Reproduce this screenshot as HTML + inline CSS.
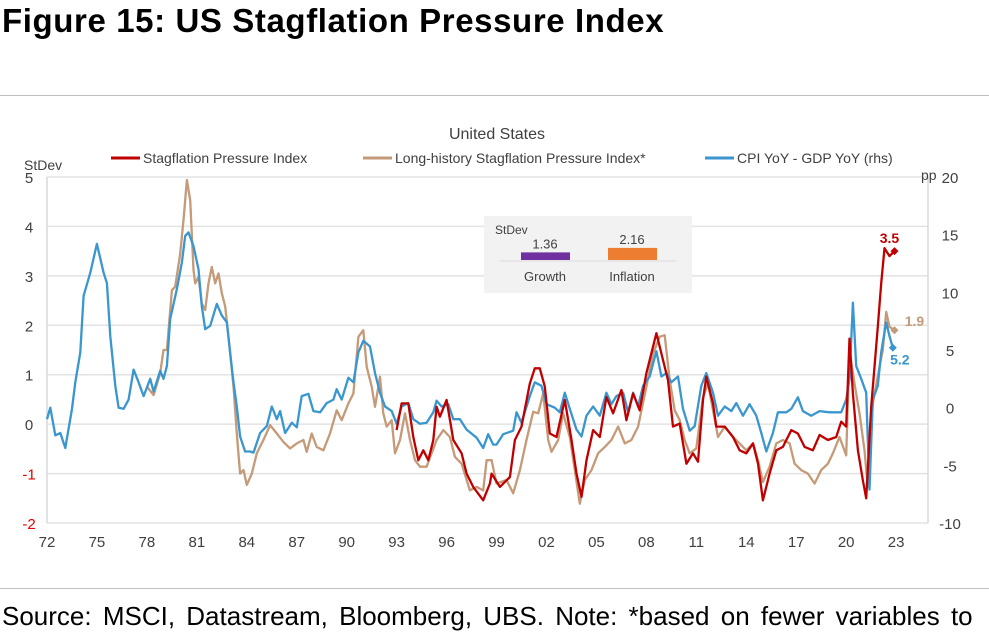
<!DOCTYPE html>
<html><head><meta charset="utf-8"><style>
body{margin:0;width:989px;height:638px;background:#fff;overflow:hidden;font-family:"Liberation Sans",sans-serif;position:relative}
.t{position:absolute;white-space:nowrap}
</style></head><body>
<div class="t" style="left:2px;top:2px;font-size:33px;font-weight:bold;color:#000;letter-spacing:0.6px">Figure 15: US Stagflation Pressure Index</div>
<div style="position:absolute;left:0;top:95px;width:989px;height:1px;background:#bfbfbf"></div>
<div style="position:absolute;left:0;top:588px;width:989px;height:1px;background:#bfbfbf"></div>
<div class="t" style="left:2px;top:601px;font-size:26px;color:#000;word-spacing:4px">Source: MSCI, Datastream, Bloomberg, UBS. Note: *based on fewer variables to</div>
<svg id="c" width="989" height="638" style="position:absolute;left:0;top:0" font-family="Liberation Sans, sans-serif"></svg>
<script>
const leftTicks=[5,4,3,2,1,0,-1,-2];
const rightTicks=[20,15,10,5,0,-5,-10];
const xTickLabels=["72","75","78","81","84","87","90","93","96","99","02","05","08","11","14","17","20","23"];
const blueDates=[1972.0,1972.2,1972.5,1972.8,1973.1,1973.5,1973.7,1974.0,1974.2,1974.6,1975.0,1975.4,1975.6,1975.8,1976.1,1976.3,1976.6,1976.9,1977.2,1977.5,1977.8,1978.2,1978.4,1978.8,1979.0,1979.2,1979.4,1979.8,1980.1,1980.3,1980.5,1980.8,1981.1,1981.3,1981.5,1981.8,1982.2,1982.5,1982.8,1983.0,1983.2,1983.4,1983.6,1983.9,1984.2,1984.4,1984.8,1985.2,1985.5,1985.8,1986.0,1986.3,1986.7,1987.0,1987.3,1987.7,1988.0,1988.4,1988.8,1989.2,1989.4,1989.7,1990.1,1990.4,1990.7,1991.0,1991.4,1991.7,1992.0,1992.3,1992.7,1993.0,1993.3,1993.7,1994.0,1994.4,1994.8,1995.2,1995.4,1995.7,1996.1,1996.4,1996.8,1997.2,1997.8,1998.2,1998.5,1998.8,1999.0,1999.4,2000.0,2000.2,2000.5,2001.0,2001.3,2001.7,2002.0,2002.5,2002.8,2003.1,2003.4,2003.8,2004.1,2004.4,2004.8,2005.2,2005.6,2005.9,2006.2,2006.6,2006.9,2007.2,2007.5,2007.8,2008.2,2008.6,2008.9,2009.2,2009.5,2009.9,2010.2,2010.6,2010.9,2011.3,2011.6,2012.0,2012.3,2012.7,2013.1,2013.4,2013.8,2014.2,2014.6,2014.9,2015.2,2015.6,2015.9,2016.4,2016.7,2017.1,2017.4,2017.9,2018.4,2019.0,2019.7,2020.0,2020.2,2020.4,2020.6,2020.9,2021.2,2021.4,2021.6,2021.9,2022.1,2022.4,2022.6,2022.8];
const blueValues=[-1.0,0,-2.4,-2.2,-3.5,-0.1,2.2,4.8,9.7,11.7,14.2,11.7,10.8,6.2,1.9,0,-0.1,0.7,3.3,2.2,1.0,2.5,1.4,3.2,2.5,3.6,7.7,10.3,12.6,14.9,15.2,14.0,12.0,8.8,6.8,7.1,9.0,8.0,7.4,4.8,2.2,0.1,-2.5,-3.8,-3.8,-3.9,-2.2,-1.6,0.1,-1.0,-0.3,-2.2,-1.3,-1.7,1.0,1.2,-0.3,-0.4,0.4,0.7,1.6,0.7,2.6,2.2,4.8,5.8,5.3,3.0,1.3,0.1,-0.3,-1.4,0.1,0.4,-1.0,-1.4,-1.3,-0.4,0.6,0.1,0.3,-1.0,-1.0,-1.9,-2.6,-3.5,-2.3,-3.2,-3.2,-2.3,-2.0,-0.4,-1.3,1.0,2.2,1.9,0.3,0,-0.4,1.3,-0.1,-1.9,-2.5,-0.7,0.1,-0.7,1.3,0.3,1.0,1.3,-0.4,1.3,0.1,1.9,2.7,4.9,2.7,3.0,2.2,2.7,-0.1,-2.0,-1.6,1.9,3.0,1.3,-0.7,0.1,-0.3,0.4,-0.7,0.3,-0.7,-2.2,-3.8,-2.2,-0.4,-0.4,-0.1,0.9,-0.3,-0.7,-0.3,-0.4,-0.4,0.7,2.5,9.1,3.6,2.5,1.3,-7.1,0.7,1.9,4.8,7.4,6.2,5.2];
const tanDates=[1978.0,1978.4,1978.8,1979.0,1979.2,1979.5,1979.7,1980.0,1980.2,1980.4,1980.6,1980.8,1980.9,1981.1,1981.3,1981.5,1981.7,1981.9,1982.1,1982.3,1982.5,1982.7,1982.9,1983.2,1983.4,1983.6,1983.8,1984.0,1984.3,1984.6,1985.0,1985.4,1985.8,1986.2,1986.6,1987.0,1987.4,1987.6,1987.9,1988.2,1988.6,1989.0,1989.4,1989.7,1990.1,1990.4,1990.7,1991.0,1991.2,1991.5,1991.7,1992.0,1992.2,1992.4,1992.7,1992.9,1993.2,1993.5,1993.8,1994.1,1994.4,1994.8,1995.1,1995.4,1995.8,1996.2,1996.5,1996.9,1997.4,1997.8,1998.2,1998.4,1998.7,1999.0,1999.6,2000.0,2000.4,2000.8,2001.2,2001.5,2001.8,2002.1,2002.3,2002.7,2003.0,2003.4,2003.7,2004.0,2004.3,2004.7,2005.1,2005.5,2005.9,2006.3,2006.7,2007.1,2007.5,2008.0,2008.4,2008.8,2009.1,2009.4,2009.7,2010.0,2010.3,2010.6,2011.0,2011.4,2011.7,2012.0,2012.3,2012.7,2013.2,2013.6,2014.0,2014.4,2014.7,2015.0,2015.4,2015.8,2016.2,2016.6,2016.9,2017.3,2017.7,2018.1,2018.5,2018.9,2019.2,2019.6,2020.0,2020.2,2020.5,2020.8,2021.1,2021.3,2021.6,2022.0,2022.2,2022.4,2022.6,2022.9];
const tanValues=[0.76,0.59,1.03,1.5,1.5,2.71,2.78,3.45,4.13,4.94,4.53,3.12,2.85,2.98,2.44,2.31,2.85,3.18,2.85,3.05,2.65,2.38,1.77,0.76,-0.19,-1.0,-0.93,-1.23,-1.0,-0.59,-0.32,-0.02,-0.19,-0.36,-0.49,-0.39,-0.32,-0.56,-0.19,-0.46,-0.53,-0.19,0.28,0.08,0.42,0.62,1.77,1.9,1.16,0.76,0.35,0.96,0.22,-0.05,0.08,-0.59,-0.32,0.22,-0.32,-0.73,-0.86,-0.86,-0.59,-0.32,-0.12,-0.26,-0.66,-0.8,-1.34,-1.27,-1.34,-0.73,-0.73,-1.2,-1.13,-1.4,-0.93,-0.32,0.25,0.22,0.62,-0.32,-0.56,-0.32,0.22,-0.26,-0.93,-1.61,-1.13,-0.93,-0.59,-0.46,-0.32,-0.05,-0.39,-0.32,-0.05,0.76,1.43,1.77,1.8,0.89,0.28,0.08,-0.32,-0.59,-0.49,0.55,0.82,0.28,-0.26,-0.05,-0.26,-0.39,-0.53,-0.39,-0.73,-1.17,-0.86,-0.39,-0.32,-0.39,-0.8,-0.93,-1.0,-1.2,-0.93,-0.8,-0.59,-0.26,-0.63,1.5,0.82,0.22,-0.53,-1.27,0.42,1.16,1.5,2.27,1.97,1.9];
const redDates=[1993.0,1993.3,1993.7,1994.0,1994.3,1994.6,1994.9,1995.2,1995.4,1995.6,1996.0,1996.4,1996.9,1997.2,1997.6,1998.2,1998.6,1998.7,1999.2,1999.8,2000.1,2000.5,2001.0,2001.3,2001.6,2001.9,2002.2,2002.6,2003.1,2003.5,2003.8,2004.1,2004.4,2004.8,2005.2,2005.6,2006.0,2006.5,2006.8,2007.2,2007.6,2008.0,2008.6,2008.9,2009.3,2009.6,2010.0,2010.4,2010.8,2011.1,2011.4,2011.6,2012.0,2012.2,2012.7,2013.2,2013.6,2014.0,2014.4,2014.7,2015.0,2015.4,2015.8,2016.2,2016.7,2017.1,2017.5,2018.0,2018.4,2018.9,2019.4,2019.7,2020.0,2020.2,2020.4,2020.7,2021.0,2021.2,2021.5,2021.9,2022.1,2022.3,2022.6,2022.9];
const redValues=[-0.12,0.42,0.42,-0.26,-0.73,-0.53,-0.73,-0.32,0.35,0.15,0.49,-0.32,-0.59,-1.0,-1.27,-1.54,-1.2,-1.0,-1.27,-1.07,-0.32,-0.05,0.82,1.13,1.13,0.76,-0.19,-0.26,0.49,-0.32,-1.0,-1.47,-0.73,-0.12,-0.26,0.55,0.22,0.69,0.08,0.62,0.28,1.03,1.84,1.43,0.89,-0.05,0.01,-0.8,-0.59,-0.76,0.49,0.96,0.42,-0.05,-0.05,-0.26,-0.53,-0.59,-0.39,-0.8,-1.54,-1.0,-0.53,-0.46,-0.12,-0.19,-0.46,-0.53,-0.22,-0.32,-0.26,0.05,-0.05,1.73,0.62,-0.53,-1.13,-1.5,0.35,1.97,2.85,3.56,3.4,3.5];
const insetCats=["Growth","Inflation"];
const insetValues=[1.36,2.16];

const NS="http://www.w3.org/2000/svg";
const svg=document.getElementById('c');
const X0=47,X1=928,YT=177,YB=523;
const xs=y=>X0+(y-1972)*16.65;
const yl=v=>YB-(v+2)/7*(YB-YT);
const yr=v=>YB-(v+10)/30*(YB-YT);
function mk(tag,attrs,parent){const e=document.createElementNS(NS,tag);for(const k in attrs)e.setAttribute(k,attrs[k]);(parent||svg).appendChild(e);return e;}
function txt(s,x,y,size,fill,anchor,weight){const e=mk('text',{x:x,y:y,'font-size':size,fill:fill,'text-anchor':anchor||'start','font-weight':weight||'normal'});e.textContent=s;return e;}

leftTicks.forEach(v=>{
 const g=mk('line',{x1:X0,x2:X1,y1:yl(v),y2:yl(v),stroke:'#e3e3e3','stroke-width':1.5});
 
 
 const t=txt(String(v),29,yl(v)+6,15,v<0?'#e00000':'#404040','middle');
 
 
});
rightTicks.forEach(v=>{
 const t=txt(String(v),950,yr(v)+6,15,'#404040','middle');
 
 
});
const la=mk('line',{x1:X0,x2:X0,y1:YT,y2:YB,stroke:'#d9d9d9','stroke-width':1.5});

const ra=mk('line',{x1:X1,x2:X1,y1:YT,y2:YB,stroke:'#d9d9d9','stroke-width':1.5});

xTickLabels.forEach((s,i)=>{
 const t=txt(s,xs(1972+3*i),547,15,'#404040','middle');
 
 
});
let t;
t=txt('StDev',24,170,14,'#404040');
t=txt('pp',921,180,14,'#404040');
t=txt('United States',497,139,16,'#404040','middle');

const leg=[["Stagflation Pressure Index","#c00000",111,143],["Long-history Stagflation Pressure Index*","#c49a78",363,395],["CPI YoY - GDP YoY (rhs)","#3a96cf",705,737]];
leg.forEach(l=>{
 const ln=mk('line',{x1:l[2],x2:l[2]+29,y1:158,y2:158,stroke:l[1],'stroke-width':3});
 
 const tt=txt(l[0],l[3],163,14,'#404040');
 
});

const box=mk('rect',{x:484,y:216,width:208,height:77,fill:'#f2f2f2'});

t=txt('StDev',495,234,12,'#404040');
const bl=mk('line',{x1:500,x2:676,y1:261,y2:261,stroke:'#d9d9d9','stroke-width':1});

const insetCol=['#7030a0','#ed7d31'];
insetCats.forEach((c,i)=>{
 const cx=545+i*87,h=insetValues[i]*5.6;
 const r=mk('rect',{x:cx-24,y:260-h,width:49,height:h,fill:insetCol[i]});
 
 const v=txt(insetValues[i].toFixed(2),cx,260-h-4,13,'#404040','middle');
 
 const lb=txt(c,cx,281,13,'#404040','middle');
 
});

function series(d,v,ys,col,name){
 const p=d.map((x,i)=>xs(x).toFixed(1)+','+ys(v[i]).toFixed(1)).join(' ');
 const pl=mk('polyline',{points:p,fill:'none',stroke:col,'stroke-width':2.3,'stroke-linejoin':'round'});
 
 const lx=xs(d[d.length-1]),ly=ys(v[v.length-1]);
 const m=mk('polygon',{points:`${lx},${ly-4} ${lx+4},${ly} ${lx},${ly+4} ${lx-4},${ly}`,fill:col});
 
 return [lx,ly];
}
const tE=series(tanDates,tanValues,yl,'#c49a78','long-history-line');
const bE=series(blueDates,blueValues,yr,'#3a96cf','cpi-gdp-line');
const rE=series(redDates,redValues,yl,'#c00000','stagflation-line');
t=txt(redValues[redValues.length-1].toFixed(1),rE[0]-5,rE[1]-8,14,'#c00000','middle','bold');
t=txt(tanValues[tanValues.length-1].toFixed(1),tE[0]+20,tE[1]-4,14,'#c49a78','middle','bold');
t=txt(blueValues[blueValues.length-1].toFixed(1),bE[0]+7,bE[1]+17,14,'#3a96cf','middle','bold');
</script>
</body></html>
